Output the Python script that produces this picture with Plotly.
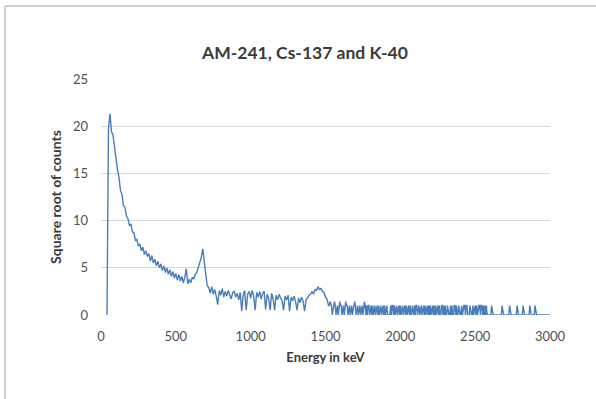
import plotly.graph_objects as go

# Main spectrum: energy (keV) from 40 in 10 keV steps, value = sqrt(counts)
main_start_kev = 40
main_step_kev = 10
main_values = [
    0.0, 19.8, 21.3, 19.4, 19.1, 17.8, 16.9, 15.4, 14.6, 13.2,    # 40-130
    12.8, 11.6, 11.4, 10.5, 10.2, 9.5, 9.6, 8.8, 8.7, 7.9,        # 140-230
    8.0, 7.3, 7.5, 6.8, 7.2, 6.4, 6.8, 6.2, 6.5, 5.7,             # 240-330
    6.3, 5.5, 5.9, 5.2, 5.7, 5.0, 5.4, 4.7, 5.2, 4.5,             # 340-430
    5.0, 4.3, 4.8, 4.1, 4.6, 3.9, 4.4, 3.7, 4.3, 3.6,             # 440-530
    4.1, 3.4, 4.0, 4.9, 3.3, 3.8, 3.4, 4.0, 3.8, 4.3,             # 540-630
    4.5, 5.1, 5.4, 6.1, 7.0, 5.4, 4.3, 3.1, 2.9, 2.3,             # 640-730
    3.0, 2.2, 2.7, 2.0, 1.1, 2.6, 2.1, 2.8, 1.9, 2.5,             # 740-830
    2.0, 2.6, 2.1, 1.7, 2.4, 2.5, 1.9, 2.3, 1.6, 2.4,             # 840-930
    0.4, 2.1, 2.6, 0.5, 2.2, 2.5, 1.8, 2.6, 2.0, 0.5,             # 940-1030
    2.4, 1.9, 2.5, 1.7, 2.3, 2.5, 0.6, 2.2, 1.8, 0.5,             # 1040-1130
    2.3, 1.7, 0.5, 2.1, 1.6, 2.2, 1.8, 1.5, 0.5, 2.0,             # 1140-1230
    1.6, 2.1, 0.4, 1.9, 1.5, 2.0, 1.4, 0.5, 1.8, 1.3,             # 1240-1330
    1.9, 1.5, 0.4, 1.6, 1.8, 2.1, 2.2, 2.5, 2.2, 2.7,             # 1340-1430
    2.6, 3.0, 2.7, 2.8, 2.5, 2.4, 1.9, 1.7, 1.0,                  # 1440-1520
]

# Tail: raw counts per 5 keV channel from 1525 keV to 3000 keV
tail_start_kev = 1525
tail_step_kev = 5
tail_counts_dense = (
    "1211011210" "1101211011" "0121101101" "1011210110" "1101101210"
    "1011011010" "1101101011" "0110101100" "0010110101" "1011010110"
    "1101011010" "0100101101" "1011011010" "1101010110" "1010110100"
    "1101010010" "0010100110" "1001000101" "1101100010" "0010110101"
    "1101101010" "10"
)
tail_counts_sparse = (
    "0000010000" "0000000001" "0000000001" "0000000001" "0000000100"
    "0000001000" "0001000000" "0000000000" "0000"
)
tail_counts = [int(c) for c in tail_counts_dense + tail_counts_sparse]

x_ticks = [0, 500, 1000, 1500, 2000, 2500, 3000]
y_ticks = [0, 5, 10, 15, 20, 25]

energy = [main_start_kev + i * main_step_kev for i in range(len(main_values))]
energy += [tail_start_kev + i * tail_step_kev for i in range(len(tail_counts))]
values = list(main_values) + [c ** 0.5 for c in tail_counts]

font_family = "Lato, 'Open Sans', sans-serif"

fig = go.Figure()
fig.add_trace(go.Scatter(
    x=energy, y=values, mode="lines",
    line=dict(color="#4a7ebb", width=1.4),
    showlegend=False, hoverinfo="skip",
))

W, H = 596, 399
L, R, T, B = 101, 46, 79, 84
pw, ph = W - L - R, H - T - B

def px_to_paper_x(px):
    return (px - L) / pw

def px_to_paper_y(py):
    return (H - B - py) / ph

fig.update_layout(
    width=W, height=H,
    margin=dict(l=L, r=R, t=T, b=B, autoexpand=False),
    paper_bgcolor="white", plot_bgcolor="white",
    font=dict(family=font_family, color="#505050", size=13),
    title=dict(
        text="<b>AM-241, Cs-137 and K-40</b>",
        font=dict(family=font_family, size=17.5, color="#3a3a3a"),
        x=305 / W, xref="container", xanchor="center",
        y=1 - 53 / H, yref="container", yanchor="middle",
    ),
    xaxis=dict(
        range=[0, 3000], tickvals=x_ticks, showgrid=False, zeroline=False,
        showline=False, ticks="", ticklabelstandoff=12,
        title=dict(text="<b>Energy in keV</b>",
                   font=dict(family=font_family, size=13, color="#3a3a3a"),
                   standoff=9),
    ),
    yaxis=dict(
        range=[0, 25], tickvals=y_ticks, showgrid=True, gridcolor="#d9d9d9",
        gridwidth=1, zeroline=False, showline=False, ticks="",
        ticklabelstandoff=12,
        title=dict(text="<b>Square root of counts</b>",
                   font=dict(family=font_family, size=14, color="#3a3a3a"),
                   standoff=8),
    ),
    shapes=[
        dict(type="line", xref="paper", yref="paper",
             x0=px_to_paper_x(5), x1=px_to_paper_x(700),
             y0=px_to_paper_y(6), y1=px_to_paper_y(6),
             line=dict(color="#d0d0d0", width=2)),
        dict(type="line", xref="paper", yref="paper",
             x0=px_to_paper_x(5), x1=px_to_paper_x(5),
             y0=px_to_paper_y(6), y1=px_to_paper_y(500),
             line=dict(color="#d0d0d0", width=2)),
    ],
)

fig.write_html("out.html")
